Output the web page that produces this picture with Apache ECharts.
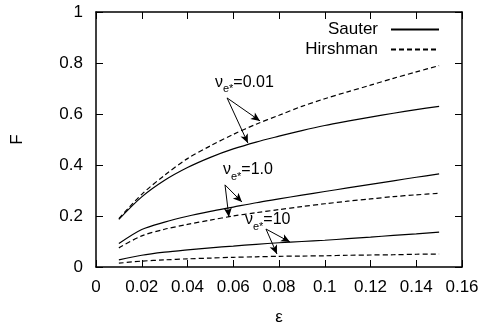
<!DOCTYPE html>
<html>
<head>
<meta charset="utf-8">
<script src="https://cdn.jsdelivr.net/npm/echarts@6/dist/echarts.min.js"></script>
<style>
  html, body { margin: 0; padding: 0; background: #fff; }
  #chart { width: 482px; height: 327px; }
</style>
</head>
<body>
<div id="chart"></div>
<script>
const eps = [0.01, 0.02, 0.03, 0.04, 0.05, 0.06, 0.07, 0.08, 0.09, 0.10, 0.11, 0.12, 0.13, 0.14, 0.15]

// nu_e* = 0.01
const sauter001 = [0.187, 0.275, 0.34, 0.39, 0.43, 0.463, 0.49, 0.513, 0.535, 0.555, 0.572, 0.588, 0.603, 0.617, 0.63]
const hirsh001 = [0.19, 0.285, 0.36, 0.425, 0.475, 0.52, 0.56, 0.595, 0.63, 0.66, 0.687, 0.713, 0.74, 0.765, 0.79]
// nu_e* = 1.0
const sauter1 = [0.092, 0.147, 0.176, 0.199, 0.218, 0.235, 0.252, 0.267, 0.282, 0.296, 0.31, 0.324, 0.338, 0.352, 0.365]
const hirsh1 = [0.075, 0.122, 0.148, 0.167, 0.184, 0.20, 0.213, 0.225, 0.237, 0.248, 0.258, 0.267, 0.276, 0.283, 0.289]
// nu_e* = 10
const sauter10 = [0.028, 0.046, 0.058, 0.067, 0.075, 0.082, 0.089, 0.095, 0.10, 0.105, 0.111, 0.117, 0.124, 0.13, 0.137]
const hirsh10 = [0.015, 0.023, 0.028, 0.032, 0.035, 0.038, 0.04, 0.042, 0.043, 0.044, 0.046, 0.047, 0.048, 0.05, 0.051]

const xTicks = [0, 0.02, 0.04, 0.06, 0.08, 0.1, 0.12, 0.14, 0.16]
const yTicks = [0, 0.2, 0.4, 0.6, 0.8, 1]

const font = 'Liberation Sans, Arial, sans-serif'
const pairs = ys => eps.map((x, i) => [x, ys[i]])
const tickText = list => v => String(list.find(t => Math.abs(t - v) < 1e-9) ?? v)

// label text + arrows, in data units
function note(text, at, from, tips) {
    return {
        markPoint: {
            symbolSize: 0,
            silent: true,
            data: [{ coord: at }],
            label: {
                show: true,
                position: [0, 0],
                align: 'left',
                verticalAlign: 'bottom',
                formatter: '{n|ν}{s|e*}{n|=' + text + '}',
                rich: {
                    n: { fontFamily: font, fontSize: 16, color: '#000', verticalAlign: 'top', lineHeight: 20 },
                    s: { fontFamily: font, fontSize: 11, color: '#000', verticalAlign: 'bottom', lineHeight: 20, padding: [9, 0, 0, 0] },
                },
            },
        },
        markLine: {
            silent: true,
            symbol: ['none', 'arrow'],
            symbolSize: [6, 9],
            label: { show: false },
            lineStyle: { color: '#000', width: 1, type: 'solid' },
            data: tips.map(t => [{ coord: from }, { coord: t }]),
        },
    }
}

function line(name, ys, dashed, extra) {
    return Object.assign({
        name: name,
        type: 'line',
        data: pairs(ys),
        symbol: 'none',
        smooth: 0.3,
        color: '#000',
        lineStyle: { color: '#000', width: 1.2, type: dashed ? [5, 3] : 'solid' },
        emphasis: { disabled: true },
    }, extra || {})
}

const frame = { onZero: false, show: true, lineStyle: { color: '#000', width: 1.5 } }
const ticks = { show: true, inside: true, length: 7, lineStyle: { color: '#000' } }
const labelStyle = { fontFamily: font, fontSize: 17, color: '#000' }

const chart = echarts.init(document.getElementById('chart'))
chart.setOption({
    animation: false,
    backgroundColor: '#fff',
    textStyle: { fontFamily: font },
    grid: { left: 96, right: 20, top: 12, bottom: 60, containLabel: false, outerBoundsMode: 'none' },
    legend: {
        data: ['Sauter', 'Hirshman'],
        orient: 'vertical',
        align: 'right',
        right: 37,
        top: 16,
        itemWidth: 48,
        itemHeight: 14,
        itemGap: 3,
        selectedMode: false,
        itemStyle: { opacity: 0 },
        textStyle: Object.assign({ padding: [0, 8, 0, 0] }, labelStyle),
    },
    xAxis: [
        {
            type: 'value', min: 0, max: 0.16, interval: 0.02,
            name: 'ε', nameLocation: 'middle', nameGap: 42,
            nameTextStyle: labelStyle,
            axisLine: frame,
            axisTick: ticks,
            axisLabel: Object.assign({ margin: 12, formatter: tickText(xTicks) }, labelStyle),
            splitLine: { show: false },
        },
        {
            type: 'value', min: 0, max: 0.16, interval: 0.02, position: 'top',
            axisLine: frame,
            axisTick: ticks,
            axisLabel: { show: false },
            splitLine: { show: false },
        },
    ],
    yAxis: [
        {
            type: 'value', min: 0, max: 1, interval: 0.2,
            name: 'F', nameLocation: 'middle', nameGap: 70, nameRotate: 90,
            nameTextStyle: labelStyle,
            axisLine: frame,
            axisTick: ticks,
            axisLabel: Object.assign({ margin: 13, formatter: tickText(yTicks) }, labelStyle),
            splitLine: { show: false },
        },
        {
            type: 'value', min: 0, max: 1, interval: 0.2, position: 'right',
            axisLine: frame,
            axisTick: ticks,
            axisLabel: { show: false },
            splitLine: { show: false },
        },
    ],
    series: [
        line('Sauter', sauter001, false, note('0.01', [0.052, 0.675], [0.0573, 0.663], [[0.0717, 0.573], [0.0664, 0.486]])),
        line('Hirshman', hirsh001, true),
        line('Sauter', sauter1, false, note('1.0', [0.0555, 0.333], [0.0564, 0.322], [[0.0638, 0.255], [0.0581, 0.196]])),
        line('Hirshman', hirsh1, true),
        line('Sauter', sauter10, false, note('10', [0.0651, 0.137], [0.0743, 0.149], [[0.0848, 0.098], [0.0791, 0.051]])),
        line('Hirshman', hirsh10, true),
    ],
})
</script>
</body>
</html>
